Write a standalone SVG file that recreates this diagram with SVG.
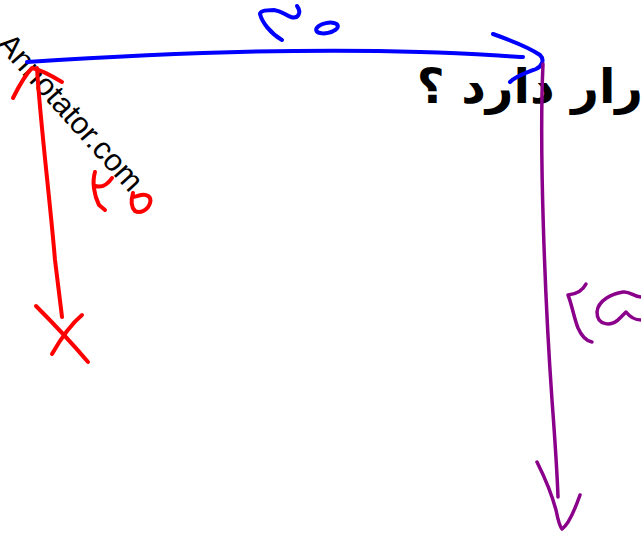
<svg xmlns="http://www.w3.org/2000/svg" width="641" height="534" viewBox="0 0 641 534">
<style>
.s{fill:none;stroke-linecap:round;stroke-linejoin:round}
.b{stroke:#0000ff;stroke-width:4}
.r{stroke:#ff0000;stroke-width:4}
.p{stroke:#8a008a;stroke-width:3.5}
</style>
<rect width="641" height="534" fill="#ffffff"/>
<g id="watermark">
<text x="-4" y="45" transform="rotate(48 -4 45)" font-family="Liberation Sans, Arial, sans-serif" font-size="31" fill="#000">Annotator.com</text>
</g>
<g id="question">
<text x="643" y="103" direction="rtl" text-anchor="start" font-family="DejaVu Sans, sans-serif" font-weight="bold" font-size="48" fill="#000">رار دارد ؟</text>
</g>
<g id="connectors">
<g id="blue">
<path class="s b" d="M27,62 C150,54 300,48 420,52 C470,53 500,56 523,57"/>
<path class="s b" d="M493,34 C510,40 530,48 540,55 C545,60 542,66 536,69 C528,72 516,76 510,82"/>
<path class="s b" d="M297,6 C302,13 298,19 291,17 C285,15 282,11 274,10 C266,10 260,11 260,14 C262,22 270,33 282,40"/>
<ellipse class="s b" cx="327" cy="28" rx="11" ry="5" transform="rotate(-12 327 28)"/>
</g>
<g id="red">
<path class="s r" d="M37,68 C40,120 50,200 55,260 C58,285 60,300 62,317"/>
<path class="s r" d="M13,98 C18,88 24,76 32,68 C42,70 52,76 62,82"/>
<path class="s r" d="M36,306 C50,320 65,335 88,362"/>
<path class="s r" d="M82,315 C70,325 60,340 52,354"/>
<path class="s r" d="M95,172 C92,182 94,195 99,205 L105,210"/>
<path class="s r" d="M95,186 C102,188 108,184 112,178"/>
<path class="s r" d="M133,193 C131,200 131,207 135,211 C140,214 148,210 150,203 C152,196 146,194 141,195 C137,196 134,197 133,197"/>
</g>
<g id="purple">
<path class="s p" d="M543,64 C539,150 545,300 552,400 C555,440 557,470 558,497"/>
<path class="s p" d="M537,462 C545,478 552,495 556,510 C558,520 560,527 562,529 C568,525 574,512 580,495"/>
<path class="s p" d="M586,284 C583,290 578,294 568,295 C572,305 574,318 578,328 C582,337 586,341 592,342"/>
<path class="s p" d="M641,297 C634,297 630,291 623,292 C612,294 598,300 597,312 C597,326 612,327 620,318 L626,312 C630,317 636,320 641,320"/>
</g>
</g>
</svg>
